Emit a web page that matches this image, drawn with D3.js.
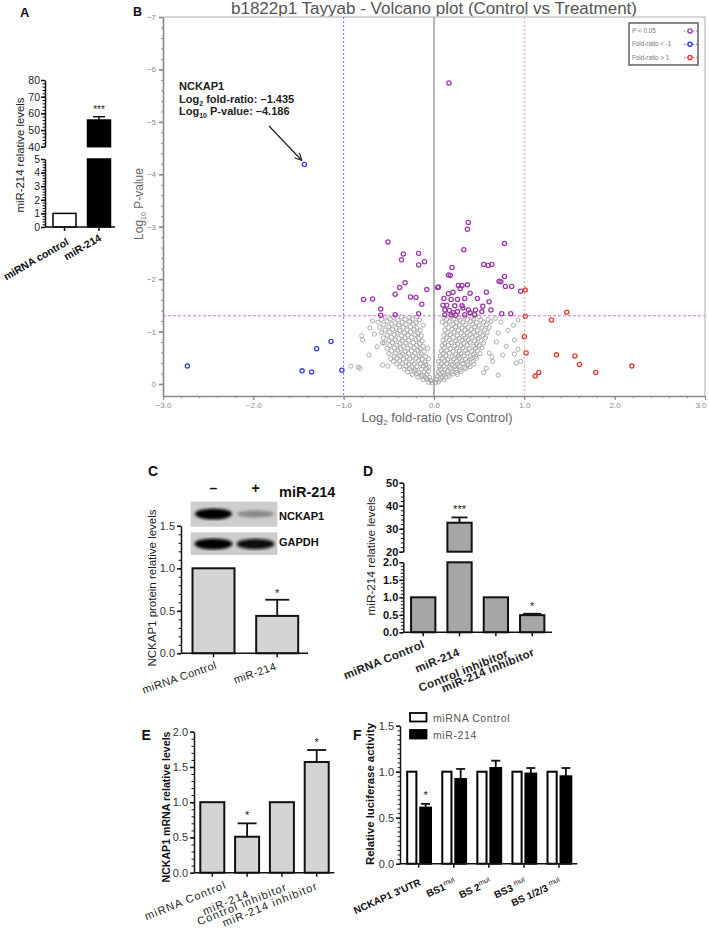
<!DOCTYPE html>
<html><head><meta charset="utf-8">
<script src="https://cdn.jsdelivr.net/npm/d3@7"></script>
<style>
body{margin:0;background:#fff}
svg{display:block}
text{font-family:"Liberation Sans",Arial,Helvetica,sans-serif}
</style>
</head><body>
<svg id="chart" width="709" height="928"></svg>
<script>
// ================= DATA =================
// Panel A
const aCategories = ["miRNA control", "miR-214"];
const aValues = [1, 56];
const aErrors = [0, 2];
const aUpperTicks = [40, 50, 60, 70, 80];
const aLowerTicks = [0, 1, 2, 3, 4, 5];
const aYLabel = "miR-214 relative levels";

// Panel B (volcano)
const volcanoTitle = "b1822p1 Tayyab - Volcano plot (Control vs Treatment)";
const volcanoXTicks = [-3, -2, -1, 0, 1, 2, 3];
const volcanoYTicks = [0, 1, 2, 3, 4, 5, 6, 7];
const volcanoLegend = ["P < 0.05", "Fold-ratio < -1", "Fold-ratio > 1"];
const pThreshold = 1.301; // -log10(0.05)
const foldThresholds = [-1, 1];
const greyPoints = [
[-0.06,0.03],[-0.02,0.02],[0.02,0.03],[0.05,0.04],[-0.03,0.06],
[-0.12,0.08],[-0.08,0.09],[-0.04,0.07],[0.03,0.08],[0.07,0.09],[0.11,0.08],
[-0.18,0.13],[-0.14,0.14],[-0.09,0.12],[-0.05,0.13],[0.04,0.14],[0.09,0.12],[0.13,0.13],[0.17,0.14],
[-0.24,0.18],[-0.19,0.19],[-0.13,0.17],[-0.08,0.18],[0.06,0.19],[0.11,0.17],[0.16,0.18],[0.21,0.19],[0.26,0.18],
[-0.29,0.23],[-0.22,0.24],[-0.17,0.22],[-0.11,0.23],[-0.06,0.24],[0.05,0.23],[0.10,0.22],[0.15,0.24],[0.20,0.23],[0.25,0.22],[0.30,0.24],
[-0.33,0.28],[-0.27,0.29],[-0.21,0.27],[-0.14,0.28],[-0.08,0.29],[0.07,0.28],[0.12,0.27],[0.18,0.29],[0.24,0.28],[0.29,0.27],[0.35,0.29],
[-0.38,0.33],[-0.31,0.34],[-0.25,0.32],[-0.19,0.33],[-0.12,0.34],[-0.06,0.32],[0.06,0.33],[0.11,0.34],[0.17,0.32],[0.23,0.33],[0.28,0.34],[0.34,0.32],[0.40,0.33],
[-0.41,0.38],[-0.35,0.39],[-0.28,0.37],[-0.22,0.38],[-0.15,0.39],[-0.09,0.37],[0.08,0.38],[0.14,0.39],[0.20,0.37],[0.26,0.38],[0.32,0.39],[0.38,0.37],[0.44,0.38],
[-0.45,0.43],[-0.38,0.44],[-0.31,0.42],[-0.24,0.43],[-0.17,0.44],[-0.10,0.42],[0.05,0.43],[0.12,0.44],[0.19,0.42],[0.25,0.43],[0.31,0.44],[0.37,0.42],[0.43,0.43],
[-0.48,0.48],[-0.41,0.49],[-0.34,0.47],[-0.27,0.48],[-0.20,0.49],[-0.13,0.47],[-0.06,0.48],[0.09,0.49],[0.15,0.47],[0.22,0.48],[0.28,0.49],[0.35,0.47],[0.41,0.48],[0.47,0.49],
[-0.44,0.53],[-0.37,0.54],[-0.30,0.52],[-0.23,0.53],[-0.16,0.54],[-0.09,0.52],[0.07,0.53],[0.13,0.54],[0.20,0.52],[0.27,0.53],[0.33,0.54],[0.40,0.52],[0.46,0.53],
[-0.50,0.58],[-0.42,0.59],[-0.35,0.57],[-0.28,0.58],[-0.21,0.59],[-0.14,0.57],[0.10,0.58],[0.17,0.59],[0.24,0.57],[0.30,0.58],[0.37,0.59],[0.44,0.57],[0.51,0.58],
[-0.47,0.63],[-0.40,0.64],[-0.32,0.62],[-0.25,0.63],[-0.18,0.64],[-0.11,0.62],[0.08,0.63],[0.14,0.64],[0.21,0.62],[0.28,0.63],[0.35,0.64],[0.42,0.62],[0.48,0.63],
[-0.52,0.68],[-0.44,0.69],[-0.37,0.67],[-0.29,0.68],[-0.22,0.69],[-0.15,0.67],[-0.07,0.68],[0.11,0.69],[0.18,0.67],[0.25,0.68],[0.32,0.69],[0.39,0.67],[0.46,0.68],[0.53,0.69],
[-0.49,0.73],[-0.41,0.74],[-0.34,0.72],[-0.26,0.73],[-0.19,0.74],[-0.12,0.72],[0.09,0.73],[0.16,0.74],[0.23,0.72],[0.30,0.73],[0.37,0.74],[0.44,0.72],[0.50,0.73],
[-0.55,0.78],[-0.46,0.79],[-0.38,0.77],[-0.31,0.78],[-0.23,0.79],[-0.16,0.77],[0.12,0.78],[0.19,0.79],[0.26,0.77],[0.33,0.78],[0.40,0.79],[0.47,0.77],[0.55,0.78],
[-0.50,0.83],[-0.43,0.84],[-0.35,0.82],[-0.28,0.83],[-0.20,0.84],[-0.13,0.82],[0.10,0.83],[0.17,0.84],[0.24,0.82],[0.31,0.83],[0.38,0.84],[0.45,0.82],[0.52,0.83],
[-0.56,0.88],[-0.47,0.89],[-0.39,0.87],[-0.32,0.88],[-0.25,0.89],[-0.17,0.87],[0.14,0.88],[0.21,0.89],[0.28,0.87],[0.35,0.88],[0.42,0.89],[0.49,0.87],[0.57,0.88],
[-0.52,0.93],[-0.44,0.94],[-0.36,0.92],[-0.29,0.93],[-0.21,0.94],[-0.14,0.92],[0.11,0.93],[0.18,0.94],[0.26,0.92],[0.33,0.93],[0.40,0.94],[0.47,0.92],[0.54,0.93],
[-0.58,0.98],[-0.49,0.99],[-0.41,0.97],[-0.33,0.98],[-0.26,0.99],[-0.18,0.97],[0.15,0.98],[0.22,0.99],[0.30,0.97],[0.37,0.98],[0.44,0.99],[0.51,0.97],[0.59,0.98],
[-0.54,1.03],[-0.46,1.04],[-0.38,1.02],[-0.30,1.03],[-0.22,1.04],[-0.15,1.02],[0.12,1.03],[0.20,1.04],[0.27,1.02],[0.34,1.03],[0.41,1.04],[0.48,1.02],[0.56,1.03],
[-0.60,1.08],[-0.50,1.09],[-0.42,1.07],[-0.34,1.08],[-0.26,1.09],[-0.19,1.07],[0.16,1.08],[0.24,1.09],[0.31,1.07],[0.38,1.08],[0.45,1.09],[0.53,1.07],[0.61,1.08],
[-0.56,1.13],[-0.47,1.14],[-0.39,1.12],[-0.31,1.13],[-0.23,1.14],[-0.12,1.12],[0.13,1.13],[0.21,1.14],[0.28,1.12],[0.35,1.13],[0.43,1.14],[0.50,1.12],[0.58,1.13],
[-0.62,1.18],[-0.52,1.19],[-0.43,1.17],[-0.35,1.18],[-0.27,1.19],[-0.20,1.17],[0.09,1.18],[0.17,1.19],[0.25,1.17],[0.32,1.18],[0.40,1.19],[0.47,1.17],[0.55,1.18],[0.63,1.19],
[-0.58,1.23],[-0.48,1.24],[-0.40,1.22],[-0.32,1.23],[-0.24,1.24],[-0.16,1.22],[0.14,1.23],[0.22,1.24],[0.29,1.22],[0.37,1.23],[0.44,1.24],[0.52,1.22],[0.60,1.23],
[-0.54,1.28],[-0.45,1.27],[-0.36,1.28],[-0.27,1.27],[-0.19,1.28],[0.11,1.27],[0.19,1.28],[0.27,1.27],[0.34,1.28],[0.42,1.27],[0.50,1.28],
[-0.92,0.34],[-0.84,0.32],[-0.82,0.30],[-0.80,0.92],[-0.79,0.84],[-0.71,1.07],[-0.63,0.71],[-0.57,0.78],[-0.57,0.36],[-0.51,0.34],
[-0.68,1.20],[-0.66,0.95],[-0.72,0.55],
[0.89,0.84],[0.71,0.97],[0.76,0.55],[0.91,0.40],[0.96,0.43],[0.71,0.17],[0.61,0.59],[0.65,0.43],[0.89,0.57],[0.64,0.52],
[0.82,1.02],[0.88,1.12],[0.93,1.22],[0.74,1.18],[0.68,1.25],[0.80,0.72],[0.69,0.80],[0.93,0.66],[0.58,0.30],[0.55,0.22]
];
const purplePoints = [
[-0.51,2.71],[-0.34,2.48],[-0.36,2.37],[-0.17,2.49],[-0.17,2.27],[-0.105,2.33],[-0.32,1.93],[-0.38,1.84],
[-0.43,1.71],[-0.26,1.66],[-0.20,1.65],[-0.08,1.80],[-0.78,1.61],[-0.68,1.62],[-0.135,1.52],[-0.59,1.43],
[-0.59,1.31],[-0.43,1.32],[-0.17,1.34],[0.04,1.84],[0.165,5.74],[0.38,3.08],[0.37,2.95],[0.33,2.56],
[0.55,2.28],[0.60,2.26],[0.64,2.28],[0.20,2.22],[0.16,2.08],[0.18,2.07],[0.27,1.88],[0.31,1.88],[0.29,1.82],
[0.37,1.89],[0.40,1.73],[0.16,1.72],[0.21,1.75],[0.11,1.63],[0.19,1.61],[0.26,1.61],[0.34,1.63],[0.58,1.75],
[0.48,1.63],[0.61,1.57],[0.72,1.96],[0.10,1.50],[0.14,1.50],[0.23,1.49],[0.31,1.49],[0.12,1.41],[0.17,1.40],
[0.21,1.36],[0.26,1.38],[0.32,1.45],[0.38,1.41],[0.40,1.36],[0.46,1.41],[0.54,1.48],[0.63,1.41],[0.12,1.32],
[0.19,1.32],[0.24,1.31],[0.34,1.32],[0.45,1.32],[0.53,1.38],[0.78,2.68],[0.78,2.05],[0.74,1.95],[0.79,1.86],
[0.86,1.86],[0.96,1.77],[0.05,1.85],[0.75,1.34],[0.85,1.34]
];
const bluePoints = [[-1.435,4.186],[-2.73,0.34],[-1.46,0.25],[-1.355,0.23],[-1.02,0.26],[-1.30,0.67],[-1.14,0.81]];
const redPoints = [[1.01,1.79],[1.01,1.29],[1.30,1.22],[1.47,1.37],[1.02,0.59],[1.355,0.555],[1.56,0.535],
[1.61,0.37],[2.19,0.34],[1.79,0.22],[1.12,0.15],[1.16,0.22],[1.00,0.90]];
const nckap1Gene = "NCKAP1";
const nckap1Fold = -1.435;
const nckap1LogP = 4.186;

// Panel C
const blotLanes = ["–", "+"];
const blotNCKAP1 = [1.0, 0.3];
const blotGAPDH = [1.0, 0.95];
const cCategories = ["miRNA Control", "miR-214"];
const cValues = [1, 0.44];
const cErrors = [0, 0.19];
const cTicks = [0, 0.5, 1.0, 1.5];
const cYLabel = "NCKAP1 protein relative levels";

// Panel D
const dCategories = ["miRNA Control", "miR-214", "Control inhibitor", "miR-214 inhibitor"];
const dValues = [1, 32.6, 1, 0.49];
const dErrors = [0, 2.3, 0, 0.04];
const dUpperTicks = [20, 30, 40, 50];
const dLowerTicks = [0, 0.5, 1.0, 1.5, 2.0];
const dYLabel = "miR-214 relative levels";

// Panel E
const eCategories = ["miRNA Control", "miR-214", "Control inhibitor", "miR-214 inhibitor"];
const eValues = [1, 0.51, 1, 1.57];
const eErrors = [0, 0.19, 0, 0.17];
const eTicks = [0, 0.5, 1.0, 1.5, 2.0];
const eYLabel = "NCKAP1 mRNA relative levels";

// Panel F
const fGroups = ["NCKAP1 3'UTR", "BS1", "BS 2", "BS3 ", "BS 1/2/3 "];
const fGroupSup = ["", "mut", "mut", "mut", "mut"];
const fSeries = ["miRNA Control", "miR-214"];
const fControl = [1, 1, 1, 1, 1];
const fMir = [0.61, 0.92, 1.04, 0.98, 0.95];
const fMirErr = [0.04, 0.11, 0.08, 0.06, 0.09];
const fTicks = [0, 0.5, 1.0, 1.5];
const fYLabel = "Relative luciferase activity";

// ================= DRAWING =================
const svg = d3.select("#chart");
const FONT = '"Liberation Sans", Arial, Helvetica, sans-serif';

function letter(t, x, y, fs) {
  svg.append("text").attr("x", x).attr("y", y).attr("font-size", fs)
    .attr("font-weight", "bold").attr("fill", "#111").text(t);
}

function leftAxis(scale, x, majors, minors, fmt, o) {
  const g0 = svg.append("g").attr("transform", `translate(${x},0)`);
  if (minors && minors.length) {
    const gm = g0.append("g").call(d3.axisLeft(scale).tickValues(minors).tickSize(o.minor).tickFormat(""));
    gm.select(".domain").remove();
    gm.selectAll("line").attr("stroke", o.color).attr("stroke-width", o.mw || 1);
  }
  const g = g0.append("g").call(d3.axisLeft(scale).tickValues(majors).tickSize(o.major)
    .tickSizeOuter(0).tickPadding(o.pad != null ? o.pad : 2).tickFormat(fmt));
  g.select(".domain").attr("stroke", o.color).attr("stroke-width", o.w);
  g.selectAll(".tick line").attr("stroke", o.color).attr("stroke-width", o.w);
  g.selectAll(".tick text").attr("font-size", o.fs).attr("fill", o.tc)
    .attr("font-weight", o.fw || "normal").attr("font-family", FONT);
  return g;
}

function bottomTicks(scale, cats, y, x1, x2, len, w) {
  const g = svg.append("g");
  g.append("line").attr("x1", x1).attr("x2", x2).attr("y1", y).attr("y2", y)
    .attr("stroke", "#111").attr("stroke-width", w);
  g.selectAll(".t").data(cats).join("line").attr("class", "t")
    .attr("x1", d => scale(d)).attr("x2", d => scale(d)).attr("y1", y).attr("y2", y + len)
    .attr("stroke", "#111").attr("stroke-width", w);
}

function yLabel(t, cx, cy, fs, fw, len, color) {
  svg.append("text").attr("transform", `translate(${cx + fs * 0.36},${cy}) rotate(-90)`)
    .attr("text-anchor", "middle").attr("font-size", fs).attr("font-weight", fw)
    .attr("fill", color || "#111").attr("textLength", len).attr("lengthAdjust", "spacingAndGlyphs").text(t);
}

function catLabels(cats, xs, axisY, offs, angle, o) {
  svg.append("g").selectAll("text").data(cats).join("text")
    .attr("transform", (d, i) => `translate(${xs(d) + offs[i][0]},${axisY + offs[i][1]}) rotate(${angle})`)
    .attr("text-anchor", "end").attr("font-size", o.fs).attr("font-weight", o.fw || "normal")
    .attr("letter-spacing", o.ls || 0).attr("fill", o.color || "#111").text(d => d);
}

function errBar(cx, y1, y2, cap, w) {
  svg.append("line").attr("x1", cx).attr("x2", cx).attr("y1", y1).attr("y2", y2)
    .attr("stroke", "#111").attr("stroke-width", w);
  svg.append("line").attr("x1", cx - cap / 2).attr("x2", cx + cap / 2).attr("y1", y2).attr("y2", y2)
    .attr("stroke", "#111").attr("stroke-width", w);
}

function star(t, x, y, fs) {
  svg.append("text").attr("x", x).attr("y", y).attr("text-anchor", "middle")
    .attr("font-size", fs).attr("fill", "#222").text(t);
}

// ---------- Panel A ----------
letter("A", 20, 17, 13);
{
  const xA = d3.scalePoint(aCategories, [64.5, 99]);
  const yAU = d3.scaleLinear([40, 80], [146.7, 80]);
  const yAL = d3.scaleLinear([0, 5], [227, 159]);
  const bw = 23;
  svg.append("g").selectAll("rect").data(aCategories).join("rect")
    .attr("x", d => xA(d) - bw / 2).attr("width", bw)
    .attr("y", (d, i) => yAL(Math.min(aValues[i], 5)))
    .attr("height", (d, i) => yAL(0) - yAL(Math.min(aValues[i], 5)))
    .attr("fill", (d, i) => i === 0 ? "#fff" : "#000").attr("stroke", "#000").attr("stroke-width", 1.5);
  aCategories.forEach((c, i) => {
    if (aValues[i] > 40) {
      svg.append("rect").attr("x", xA(c) - bw / 2).attr("width", bw)
        .attr("y", yAU(aValues[i])).attr("height", yAU(40) - yAU(aValues[i]))
        .attr("fill", "#000").attr("stroke", "#000").attr("stroke-width", 1.5);
      errBar(xA(c), yAU(aValues[i]), yAU(aValues[i] + aErrors[i]), 12, 1.5);
      star("***", xA(c), yAU(aValues[i] + aErrors[i]) - 4, 10);
    }
  });
  const ax = {color: "#111", w: 1.5, major: 4, minor: 2.5, fs: 10.5, tc: "#222", pad: 1};
  leftAxis(yAU, 45, aUpperTicks, d3.range(40, 80.01, 2), d3.format("d"), ax);
  leftAxis(yAL, 45, aLowerTicks, d3.range(0, 5.01, 0.2), d3.format("d"), ax);
  bottomTicks(xA, aCategories, 227, 45, 115, 4, 1.5);
  catLabels(aCategories, xA, 227, [[5, 17], [3, 13]], -30, {fs: 10.5, fw: "bold"});
  yLabel(aYLabel, 20, 155, 10, "normal", 115, "#222");
}

// ---------- Panel B ----------
letter("B", 133, 15.5, 12.5);
{
  const xV = d3.scaleLinear([-3, 3], [163, 705]);
  const yV = d3.scaleLinear([-0.23, 7], [396, 17]);
  const purple = "#9a3aa8", blue = "#3b3be8", red = "#e23a3a", grey = "#a3a3a3";

  svg.append("text").attr("x", 434).attr("y", 14).attr("text-anchor", "middle")
    .attr("font-size", 16).attr("fill", "#555").attr("textLength", 406)
    .attr("lengthAdjust", "spacingAndGlyphs").text(volcanoTitle);

  // frame
  svg.append("line").attr("x1", 163).attr("x2", 705).attr("y1", 17).attr("y2", 17).attr("stroke", "#c8c8c8").attr("stroke-width", 1.5);
  svg.append("line").attr("x1", 705).attr("x2", 705).attr("y1", 17).attr("y2", 396).attr("stroke", "#c8c8c8").attr("stroke-width", 1.5);

  // threshold lines
  svg.append("line").attr("x1", xV(foldThresholds[0])).attr("x2", xV(foldThresholds[0])).attr("y1", 17).attr("y2", 396)
    .attr("stroke", "#6a6af0").attr("stroke-width", 1).attr("stroke-dasharray", "2,2");
  svg.append("line").attr("x1", xV(foldThresholds[1])).attr("x2", xV(foldThresholds[1])).attr("y1", 17).attr("y2", 396)
    .attr("stroke", "#f59a9a").attr("stroke-width", 1).attr("stroke-dasharray", "2,2");
  svg.append("line").attr("x1", xV(0)).attr("x2", xV(0)).attr("y1", 17).attr("y2", 396)
    .attr("stroke", "#a0a0a0").attr("stroke-width", 1.6);

  // points
  const drawPts = (pts, col, sw) => svg.append("g").selectAll("circle").data(pts).join("circle")
    .attr("cx", d => xV(d[0])).attr("cy", d => yV(d[1])).attr("r", 2.1)
    .attr("fill", "none").attr("stroke", col).attr("stroke-width", sw);
  drawPts(greyPoints, grey, 0.9);
  svg.append("line").attr("x1", 163).attr("x2", 705).attr("y1", yV(pThreshold)).attr("y2", yV(pThreshold))
    .attr("stroke", "#d27ad8").attr("stroke-width", 1.1).attr("stroke-dasharray", "3,2");
  drawPts(purplePoints, purple, 1.3);
  drawPts(bluePoints, blue, 1.3);
  drawPts(redPoints, red, 1.3);

  // axes
  const gx = svg.append("g").attr("transform", "translate(0,396)");
  const gxm = gx.append("g").call(d3.axisBottom(xV).tickValues(d3.range(-3, 3.01, 0.2)).tickSize(2).tickFormat(""));
  gxm.select(".domain").remove();
  gxm.selectAll("line").attr("stroke", "#888");
  const gxM = gx.append("g").call(d3.axisBottom(xV).tickValues(volcanoXTicks).tickSize(4).tickSizeOuter(0).tickPadding(2));
  gxM.select(".domain").attr("stroke", "#888").attr("stroke-width", 1.6);
  gxM.selectAll(".tick line").attr("stroke", "#888").attr("stroke-width", 1.2);
  gxM.selectAll(".tick text").attr("font-size", 8).attr("fill", "#8a8a8a").attr("font-family", FONT)
    .attr("text-anchor", d => d === 3 ? "end" : "middle").attr("dx", d => d === 3 ? 1 : 0);

  leftAxis(yV, 163, volcanoYTicks, d3.range(0, 7.01, 0.2), d => d === 0 ? "0" : "\u2212" + d,
    {color: "#888", w: 1.6, major: 4, minor: 2, mw: 0.9, fs: 8, tc: "#8a8a8a", pad: 3});

  // axis titles
  const yl = svg.append("text").attr("transform", "translate(143,204) rotate(-90)").attr("text-anchor", "middle")
    .attr("font-size", 12).attr("fill", "#666");
  yl.append("tspan").text("Log");
  yl.append("tspan").attr("font-size", 7).attr("dy", 3).text("10");
  yl.append("tspan").attr("dy", -3).text(" P-value");
  const xl = svg.append("text").attr("x", 437).attr("y", 422).attr("text-anchor", "middle")
    .attr("font-size", 13).attr("fill", "#666");
  xl.append("tspan").text("Log");
  xl.append("tspan").attr("font-size", 8).attr("dy", 3).text("2");
  xl.append("tspan").attr("dy", -3).text(" fold-ratio (vs Control)");

  // legend
  svg.append("rect").attr("x", 629).attr("y", 23).attr("width", 69).attr("height", 42)
    .attr("fill", "#fff").attr("stroke", "#555").attr("stroke-width", 1.4);
  const lcols = [purple, blue, red];
  volcanoLegend.forEach((t, i) => {
    const y = 33 + i * 13.3;
    const tx = svg.append("text").attr("x", 632).attr("y", y).attr("font-size", 6.3).attr("fill", "#777");
    if (i === 0) {
      tx.append("tspan").attr("font-style", "italic").text("P");
      tx.append("tspan").text(" < 0.05");
    } else tx.text(t);
    svg.append("line").attr("x1", 684).attr("x2", 697).attr("y1", y - 2).attr("y2", y - 2)
      .attr("stroke", lcols[i]).attr("stroke-width", 0.8).attr("stroke-dasharray", "1.5,1.5");
    svg.append("circle").attr("cx", 690).attr("cy", y - 2).attr("r", 2.1).attr("fill", "#fff")
      .attr("stroke", lcols[i]).attr("stroke-width", 1.4);
  });

  // annotation
  const ann = svg.append("g").attr("font-size", 11).attr("font-weight", "bold").attr("fill", "#222");
  ann.append("text").attr("x", 179).attr("y", 90).text(nckap1Gene);
  const l2 = ann.append("text").attr("x", 179).attr("y", 102.5);
  l2.append("tspan").text("Log");
  l2.append("tspan").attr("font-size", 7).attr("dy", 3).text("2");
  l2.append("tspan").attr("dy", -3).text(" fold-ratio: \u2013" + Math.abs(nckap1Fold).toFixed(3));
  const l3 = ann.append("text").attr("x", 179).attr("y", 115);
  l3.append("tspan").text("Log");
  l3.append("tspan").attr("font-size", 7).attr("dy", 3).text("10");
  l3.append("tspan").attr("dy", -3).text(" P-value: \u2013" + nckap1LogP.toFixed(3));
  const ex = xV(nckap1Fold) - 2.5, ey = yV(nckap1LogP) - 4;
  const sx = 269, sy = 126;
  svg.append("line").attr("x1", sx).attr("y1", sy).attr("x2", ex).attr("y2", ey).attr("stroke", "#222").attr("stroke-width", 1.2);
  const ang = Math.atan2(ey - sy, ex - sx);
  [0.45, -0.45].forEach(a => {
    svg.append("line").attr("x1", ex).attr("y1", ey)
      .attr("x2", ex - 8 * Math.cos(ang + a)).attr("y2", ey - 8 * Math.sin(ang + a))
      .attr("stroke", "#222").attr("stroke-width", 1.2);
  });
}

// ---------- Panel C ----------
letter("C", 148, 476, 14);
{
  const defs = svg.append("defs");
  defs.append("filter").attr("id", "blur").append("feGaussianBlur").attr("stdDeviation", 1.6);
  const lane = d3.scalePoint(blotLanes, [213.5, 255.5]);
  svg.append("rect").attr("x", 190.7).attr("y", 501.7).attr("width", 86.6).attr("height", 25).attr("fill", "#cdcdcd");
  svg.append("rect").attr("x", 190.7).attr("y", 532.3).attr("width", 86.6).attr("height", 22.7).attr("fill", "#cdcdcd");
  const shade = d3.scaleLinear([0, 1], ["#c0c0c0", "#050505"]);
  svg.append("g").attr("filter", "url(#blur)").selectAll("ellipse").data(blotLanes).join("ellipse")
    .attr("cx", d => lane(d)).attr("cy", 514).attr("rx", 18.5).attr("ry", (d, i) => 2.5 + 3 * blotNCKAP1[i])
    .attr("fill", (d, i) => shade(blotNCKAP1[i]));
  svg.append("g").attr("filter", "url(#blur)").selectAll("ellipse").data(blotLanes).join("ellipse")
    .attr("cx", d => lane(d)).attr("cy", 544).attr("rx", 19).attr("ry", (d, i) => 2.5 + 3 * blotGAPDH[i])
    .attr("fill", (d, i) => shade(blotGAPDH[i]));
  svg.append("g").selectAll("text").data(blotLanes).join("text")
    .attr("x", d => lane(d)).attr("y", 493).attr("text-anchor", "middle")
    .attr("font-size", 14).attr("font-weight", "bold").attr("fill", "#111").text(d => d);
  svg.append("text").attr("x", 279).attr("y", 497).attr("font-size", 14.5).attr("font-weight", "bold").attr("fill", "#111").text("miR-214");
  svg.append("text").attr("x", 279).attr("y", 520).attr("font-size", 11).attr("font-weight", "bold").attr("fill", "#111").text("NCKAP1");
  svg.append("text").attr("x", 279).attr("y", 546).attr("font-size", 11).attr("font-weight", "bold").attr("fill", "#111").text("GAPDH");

  const xC = d3.scalePoint(cCategories, [213.5, 277.2]);
  const yC = d3.scaleLinear([0, 1.5], [653.3, 525.8]);
  const bw = 42;
  svg.append("g").selectAll("rect").data(cCategories).join("rect")
    .attr("x", d => xC(d) - bw / 2).attr("width", bw)
    .attr("y", (d, i) => yC(cValues[i])).attr("height", (d, i) => yC(0) - yC(cValues[i]))
    .attr("fill", "#d4d4d4").attr("stroke", "#111").attr("stroke-width", 2);
  cCategories.forEach((c, i) => {
    if (cErrors[i] > 0) {
      errBar(xC(c), yC(cValues[i]), yC(cValues[i] + cErrors[i]), 24, 1.8);
      star("*", xC(c), yC(cValues[i] + cErrors[i]) - 3, 11);
    }
  });
  leftAxis(yC, 181, cTicks, d3.range(0, 1.51, 0.1), d3.format(".1f"),
    {color: "#111", w: 1.5, major: 4, minor: 2.5, fs: 11, tc: "#333", pad: 2});
  bottomTicks(xC, cCategories, 653.3, 181, 308, 4, 1.5);
  catLabels(cCategories, xC, 653.3, [[4, 15], [0, 16]], -19, {fs: 11, ls: 0.4, color: "#222"});
  yLabel(cYLabel, 152, 588, 10, "normal", 157, "#222");
}

// ---------- Panel D ----------
letter("D", 363, 476, 14);
{
  const xD = d3.scalePoint(dCategories, [423.2, 532.2]);
  const yDU = d3.scaleLinear([20, 50], [551.7, 482.7]);
  const yDL = d3.scaleLinear([0, 2], [632.3, 562.3]);
  const bw = 24.3;
  svg.append("g").selectAll("rect").data(dCategories).join("rect")
    .attr("x", d => xD(d) - bw / 2).attr("width", bw)
    .attr("y", (d, i) => yDL(Math.min(dValues[i], 2)))
    .attr("height", (d, i) => yDL(0) - yDL(Math.min(dValues[i], 2)))
    .attr("fill", "#a6a6a6").attr("stroke", "#111").attr("stroke-width", 2);
  dCategories.forEach((c, i) => {
    if (dValues[i] > 20) {
      svg.append("rect").attr("x", xD(c) - bw / 2).attr("width", bw)
        .attr("y", yDU(dValues[i])).attr("height", yDU(20) - yDU(dValues[i]))
        .attr("fill", "#a6a6a6").attr("stroke", "#111").attr("stroke-width", 2);
      errBar(xD(c), yDU(dValues[i]), yDU(dValues[i] + dErrors[i]), 16, 1.8);
      star("***", xD(c), yDU(dValues[i] + dErrors[i]) - 4, 11);
    } else if (dErrors[i] > 0) {
      errBar(xD(c), yDL(dValues[i]), yDL(dValues[i] + dErrors[i]), 18, 1.8);
      star("*", xD(c), yDL(dValues[i] + dErrors[i]) - 4, 11);
    }
  });
  const ax = {color: "#111", w: 1.5, major: 4, minor: 2.5, fs: 11, tc: "#111", fw: "bold", pad: 1};
  leftAxis(yDU, 403.3, dUpperTicks, d3.range(20, 50.01, 2), d3.format("d"), ax);
  leftAxis(yDL, 403.3, dLowerTicks, d3.range(0, 2.01, 0.1), d3.format(".1f"), ax);
  bottomTicks(xD, dCategories, 632.3, 403.3, 552, 4, 1.5);
  catLabels(dCategories, xD, 632.3, [[2, 15], [1, 23], [13, 24], [3, 23]], -22, {fs: 11.5, fw: "bold", ls: 0.3, color: "#222"});
  yLabel(dYLabel, 371, 556, 10, "normal", 119, "#222");
}

// ---------- Panel E ----------
letter("E", 141.5, 740, 14);
{
  const xE = d3.scalePoint(eCategories, [212.3, 316.7]);
  const yE = d3.scaleLinear([0, 2], [872.7, 731.7]);
  const bw = 24;
  svg.append("g").selectAll("rect").data(eCategories).join("rect")
    .attr("x", d => xE(d) - bw / 2).attr("width", bw)
    .attr("y", (d, i) => yE(eValues[i])).attr("height", (d, i) => yE(0) - yE(eValues[i]))
    .attr("fill", "#d4d4d4").attr("stroke", "#111").attr("stroke-width", 2);
  eCategories.forEach((c, i) => {
    if (eErrors[i] > 0) {
      errBar(xE(c), yE(eValues[i]), yE(eValues[i] + eErrors[i]), 19, 1.8);
      star("*", xE(c), yE(eValues[i] + eErrors[i]) - 4, 11);
    }
  });
  leftAxis(yE, 194, eTicks, d3.range(0, 2.01, 0.1), d3.format(".1f"),
    {color: "#111", w: 1.5, major: 4, minor: 2.5, fs: 11, tc: "#333", pad: 2});
  bottomTicks(xE, eCategories, 872.7, 194, 334.3, 4, 1.5);
  catLabels(eCategories, xE, 872.7, [[15, 15], [3, 24], [6, 17], [2, 16]], -22, {fs: 11, ls: 1.1, color: "#222"});
  yLabel(eYLabel, 166, 807, 11, "bold", 151, "#111");
}

// ---------- Panel F ----------
letter("F", 353, 740, 14);
{
  const xF = d3.scalePoint(fGroups, [418.7, 559]);
  const sub = d3.scaleBand(fSeries, [-12.3, 12.3]).paddingInner(0.22);
  const yF = d3.scaleLinear([0, 1.5], [863.7, 725.7]);
  const seriesVals = [fControl, fMir];
  fSeries.forEach((s, si) => {
    svg.append("g").selectAll("rect").data(fGroups).join("rect")
      .attr("x", d => xF(d) + sub(s) + (si === 0 ? 0.8 : 0)).attr("width", sub.bandwidth() - (si === 0 ? 1.6 : 0))
      .attr("y", (d, i) => yF(seriesVals[si][i])).attr("height", (d, i) => yF(0) - yF(seriesVals[si][i]))
      .attr("fill", si === 0 ? "#fff" : "#000").attr("stroke", "#000").attr("stroke-width", 2);
  });
  fGroups.forEach((g, i) => {
    const cx = xF(g) + sub("miR-214") + sub.bandwidth() / 2;
    errBar(cx, yF(fMir[i]), yF(fMir[i] + fMirErr[i]), 9, 1.8);
    if (i === 0) star("*", cx, yF(fMir[i] + fMirErr[i]) - 5, 11);
  });
  leftAxis(yF, 400, fTicks, d3.range(0, 1.51, 0.05), d3.format(".1f"),
    {color: "#111", w: 1.5, major: 4, minor: 2.5, mw: 0.9, fs: 11, tc: "#333", pad: 2});
  bottomTicks(xF, fGroups, 863.7, 400, 577.3, 4, 1.5);
  const lab = svg.append("g").selectAll("text").data(fGroups).join("text")
    .attr("transform", d => `translate(${xF(d) + 3},${863.7 + 21}) rotate(-24)`)
    .attr("text-anchor", "end").attr("font-size", 10).attr("font-weight", "bold").attr("fill", "#111");
  lab.append("tspan").text(d => d);
  lab.append("tspan").attr("font-size", 7).attr("font-weight", "normal").attr("dy", -4).text((d, i) => fGroupSup[i]);
  yLabel(fYLabel, 370, 794, 10.5, "bold", 142, "#111");

  // legend
  svg.append("rect").attr("x", 410).attr("y", 713).attr("width", 16.5).attr("height", 8.5)
    .attr("fill", "#fff").attr("stroke", "#000").attr("stroke-width", 1.8);
  svg.append("rect").attr("x", 410).attr("y", 730).attr("width", 16.5).attr("height", 8.5)
    .attr("fill", "#000").attr("stroke", "#000").attr("stroke-width", 1.8);
  fSeries.forEach((s, i) => {
    svg.append("text").attr("x", 433).attr("y", 721.5 + i * 17).attr("font-size", 10.5)
      .attr("letter-spacing", 0.6).attr("fill", "#555").text(s);
  });
}
</script>
</body></html>
